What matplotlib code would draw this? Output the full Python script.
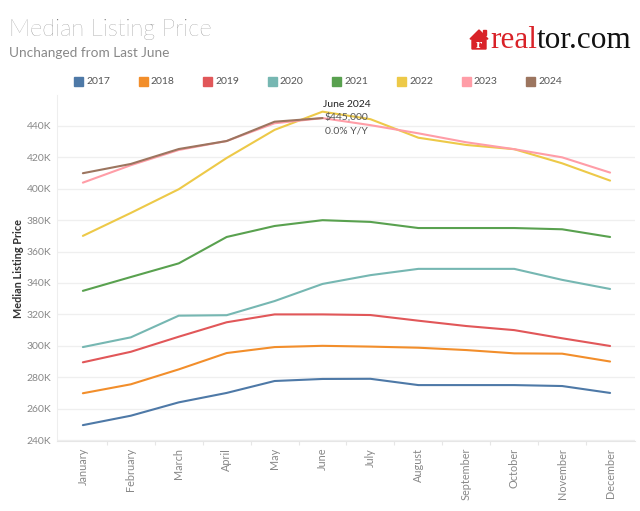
import matplotlib
matplotlib.use("Agg")
import matplotlib.pyplot as plt
from matplotlib.patches import Polygon, Rectangle
from matplotlib.ticker import FuncFormatter, FixedLocator

months = ["January", "February", "March", "April", "May", "June", "July",
          "August", "September", "October", "November", "December"]
years = ["2017", "2018", "2019", "2020", "2021", "2022", "2023", "2024"]
colors = ["#4e79a7", "#f28e2b", "#e15759", "#76b7b2", "#59a14f",
          "#edc948", "#ff9da7", "#9c755f"]

# values in thousands of dollars
p2017 = [249.5, 255.5, 264.0, 270.0, 277.6, 278.9, 279.0, 275.0, 275.0, 275.0, 274.4, 270.0]
p2018 = [269.8, 275.5, 285.0, 295.4, 299.2, 300.0, 299.5, 298.8, 297.3, 295.2, 295.0, 290.0]
p2019 = [289.5, 296.2, 305.8, 315.0, 320.0, 320.0, 319.6, 316.0, 312.6, 310.0, 304.8, 299.9]
p2020 = [299.2, 305.4, 319.2, 319.5, 328.5, 339.4, 345.0, 349.0, 349.0, 349.0, 342.0, 336.2]
p2021 = [335.0, 343.8, 352.5, 369.3, 376.3, 380.0, 378.9, 375.0, 375.0, 375.0, 374.2, 369.3]
p2022 = [370.0, 384.6, 399.7, 419.6, 437.5, 449.1, 444.3, 432.5, 427.9, 425.2, 416.2, 405.2]
p2023 = [403.9, 415.0, 424.7, 430.4, 441.7, 445.0, 440.5, 435.3, 429.6, 425.2, 420.0, 410.3]
p2024 = [409.9, 415.8, 425.3, 430.4, 442.7, 445.0]
series = [p2017, p2018, p2019, p2020, p2021, p2022, p2023, p2024]

yticks = [240, 260, 280, 300, 320, 340, 360, 380, 400, 420, 440]

W, H = 640, 511
fig = plt.figure(figsize=(W / 100, H / 100), dpi=100)
plt.rcParams['font.family'] = ['Lato', 'DejaVu Sans']

def fx(px):
    return px / W

def fy(py):
    return 1 - py / H

ax = fig.add_axes([fx(57), fy(441), fx(635) - fx(57), fy(95) - fy(441)])
ax.set_xlim(-0.54, 11.52)
ax.set_ylim(239.4, 459.7)

for vals, c in zip(series, colors):
    ax.plot(range(len(vals)), vals, color=c, lw=1.5, solid_capstyle='round', zorder=3)

ax.yaxis.set_major_locator(FixedLocator(yticks))
ax.yaxis.set_major_formatter(FuncFormatter(lambda v, p: f"{int(v)}K"))
ax.grid(axis='y', color='#efefef', lw=0.9, zorder=0)
ax.tick_params(axis='y', length=0, labelsize=7.5, labelcolor='#888888', pad=4)

ax.set_xticks(range(12))
ax.set_xticklabels(months, rotation=90, fontsize=7.8, color='#888888')
ax.set_xticks([i + 0.5 for i in range(11)], minor=True)
ax.tick_params(axis='x', which='major', length=0, pad=5)
ax.tick_params(axis='x', which='minor', length=3, color='#e6e6e6', width=0.8)

for s in ['top', 'right']:
    ax.spines[s].set_visible(False)
ax.spines['left'].set_color('#eeeeee')
ax.spines['bottom'].set_color('#e6e6e6')

ax.set_ylabel("Median Listing Price", fontsize=7.8, color='#333333', fontweight='bold', labelpad=2)

# tooltip
ax.text(5.5, 453.8, "June 2024", ha='center', va='center', fontsize=7.5, color='#222222')
ax.text(5.5, 445.9, "$445,000", ha='center', va='center', fontsize=7.5, color='#555555')
ax.text(5.5, 437.0, "0.0% Y/Y", ha='center', va='center', fontsize=7.5, color='#555555')

# titles
fig.text(fx(9), fy(30), "Median Listing Price", fontsize=17, color='#707070',
         ha='left', va='center', fontweight='light')
fig.text(fx(9), fy(53), "Unchanged from Last June", fontsize=9.8, color='#888888',
         ha='left', va='center')

# legend
for i, (y, c) in enumerate(zip(years, colors)):
    x0 = 74 + i * 64.6
    fig.patches.append(Rectangle((fx(x0), fy(86)), fx(9), fy(77) - fy(86),
                                 transform=fig.transFigure, color=c, figure=fig))
    fig.text(fx(x0 + 12), fy(81.5), y, fontsize=7.5, color='#555555', ha='left', va='center')

# realtor.com logo
red = '#d92228'
house = [(470, 39), (479, 30), (488, 39), (486, 39), (486, 49), (472, 49), (472, 39)]
fig.patches.append(Polygon([(fx(a), fy(b)) for a, b in house], closed=True,
                           transform=fig.transFigure, color=red, figure=fig))
fig.patches.append(Rectangle((fx(483), fy(35)), fx(2.5), fy(30) - fy(35),
                             transform=fig.transFigure, color=red, figure=fig))
fig.text(fx(479), fy(44.5), "r", fontsize=8, color='white', ha='center', va='center',
         family='DejaVu Serif', fontweight='bold')
t1 = fig.text(fx(490), fy(48), "real", fontsize=22.5, color=red, ha='left', va='baseline',
              family='Liberation Serif')
fig.canvas.draw()
bb = t1.get_window_extent()
fig.text(bb.x1 / W, fy(48), "tor.com", fontsize=22.5, color='#111111', ha='left', va='baseline',
         family='Liberation Serif')

fig.savefig("out.png", dpi=100)
